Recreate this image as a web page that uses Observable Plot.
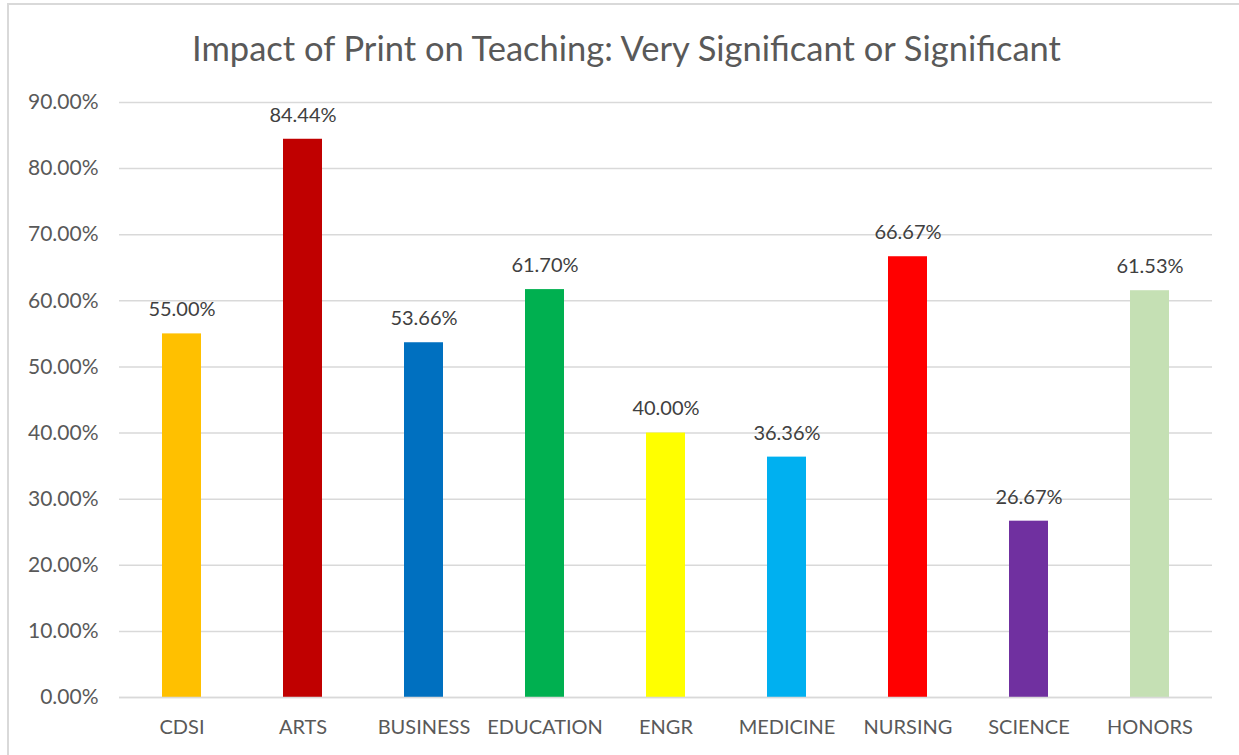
<!DOCTYPE html>
<html>
<head>
<meta charset="utf-8">
<script src="https://cdn.jsdelivr.net/npm/d3@7"></script>
<script src="https://cdn.jsdelivr.net/npm/@observablehq/plot@0.6"></script>
<style>
  html, body { margin: 0; padding: 0; background: #fff; }
  #wrap { position: relative; width: 1239px; height: 755px; overflow: hidden; font-family: Lato, "Open Sans", sans-serif; }
  #frame { position: absolute; left: 7px; top: 3px; width: 1300px; height: 800px; border-left: 2px solid #d9d9d9; border-top: 2px solid #d9d9d9; box-sizing: border-box; }
  #title { position: absolute; left: 7px; top: 0; width: 1239px; height: 78px; line-height: 96px; text-align: center; font-size: 34.5px; color: #595959; white-space: nowrap; }
  #chart { position: absolute; left: 0; top: 78px; }
</style>
</head>
<body>
<div id="wrap">
  <div id="frame"></div>
  <div id="title">Impact of Print on Teaching: Very Significant or Significant</div>
  <div id="chart"></div>
</div>
<script>
const categories = ["CDSI", "ARTS", "BUSINESS", "EDUCATION", "ENGR", "MEDICINE", "NURSING", "SCIENCE", "HONORS"];
const values = [0.55, 0.8444, 0.5366, 0.617, 0.40, 0.3636, 0.6667, 0.2667, 0.6153];
const labels = ["55.00%", "84.44%", "53.66%", "61.70%", "40.00%", "36.36%", "66.67%", "26.67%", "61.53%"];
const colors = ["#FFC000", "#C00000", "#0070C0", "#00B050", "#FFFF00", "#00B0F0", "#FF0000", "#7030A0", "#C5E0B4"];
const yTicks = [0, 0.1, 0.2, 0.3, 0.4, 0.5, 0.6, 0.7, 0.8, 0.9];

const data = categories.map((c, i) => ({cat: c, value: values[i], label: labels[i], color: colors[i]}));
const fmt = d3.format(".2%");

const chart = Plot.plot({
  width: 1239,
  height: 677,
  marginTop: 24,
  marginBottom: 58,
  marginLeft: 119,
  marginRight: 27,
  style: {fontFamily: "Lato, 'Open Sans', sans-serif", fontSize: "20px", color: "#595959", background: "transparent"},
  x: {domain: categories, paddingInner: 0.68, paddingOuter: 0.34, align: 0.5, label: null},
  y: {domain: [0, 0.9], ticks: yTicks, tickFormat: fmt, label: null},
  marks: [
    Plot.gridY(yTicks, {stroke: "#d9d9d9", strokeOpacity: 1, strokeWidth: 1.5}),
    Plot.barY(data, {x: "cat", y: "value", fill: "color"}),
    Plot.ruleY([0], {stroke: "#d9d9d9", strokeWidth: 1.5}),
    Plot.text(data, {x: "cat", y: "value", text: "label", dy: -24, fill: "#404040", fontSize: 20}),
    Plot.axisX({tickSize: 0, tickPadding: 22, fill: "#595959", fontSize: 20}),
    Plot.axisY({ticks: yTicks, tickFormat: fmt, tickSize: 0, tickPadding: 21, fill: "#595959", fontSize: 21})
  ]
});
document.getElementById("chart").appendChild(chart);
</script>
</body>
</html>
